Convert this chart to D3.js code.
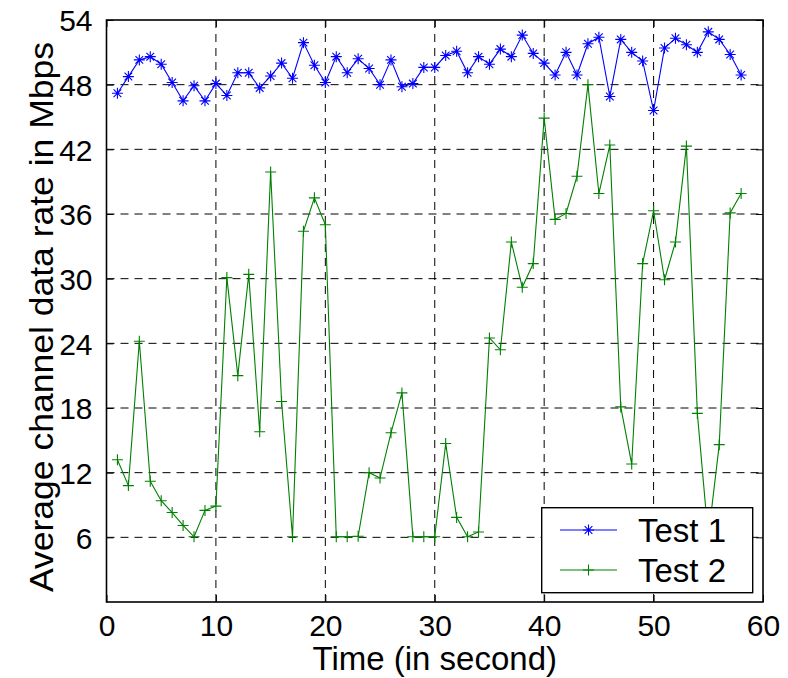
<!DOCTYPE html>
<html><head><meta charset="utf-8">
<script src="https://cdn.jsdelivr.net/npm/d3@7/dist/d3.min.js"></script>
<style>body{margin:0;background:#fff}svg{display:block}text{font-family:"Liberation Sans",Arial,sans-serif}</style>
</head><body>
<svg id="c" width="788" height="678"></svg>
<script>
const time = d3.range(1, 59);
const test1 = [47.2,48.75,50.3,50.6,49.9,48.2,46.5,47.9,46.5,48.1,47.0,49.1,49.1,47.7,48.8,50.0,48.6,51.9,49.8,48.2,
  50.6,49.1,50.4,49.5,48.0,50.3,47.8,48.1,49.6,49.6,50.7,51.1,49.1,50.6,49.9,51.3,50.6,52.6,50.9,50.0,
  48.9,51.0,48.9,51.8,52.4,46.9,52.2,51.0,50.2,45.6,51.4,52.3,51.7,51.0,52.9,52.2,50.8,48.9];
const test2 = [13.2,10.8,24.2,11.2,9.4,8.3,7.1,6.05,8.5,8.9,30.1,21.0,30.4,15.8,39.9,18.6,6.05,34.4,37.5,35.0,
  6.05,6.05,6.1,12.0,11.5,15.7,19.4,6.05,6.05,6.05,14.7,7.85,6.05,6.5,24.5,23.4,33.4,29.2,31.4,44.9,
  35.5,36.05,39.5,48.0,37.9,42.4,18.1,12.8,31.4,36.3,29.9,33.4,42.3,17.5,6.0,14.6,36.1,37.9];
const xTicks = [0,10,20,30,40,50,60];
const yTicks = [6,12,18,24,30,36,42,48,54];
const seriesNames = ["Test 1","Test 2"];
const seriesColors = ["#0000ff","#008000"];

const svg = d3.select("#c");
const L=106.5, R=763, T=20, B=602;
const x = d3.scaleLinear().domain([0,60]).range([L,R]);
const y = d3.scaleLinear().domain([0,54]).range([B,T]);

// grid
const g = svg.append("g");
g.selectAll(".vg").data(xTicks.filter(d=>d>0&&d<60)).join("line")
  .attr("x1",d=>x(d)).attr("x2",d=>x(d)).attr("y1",T).attr("y2",B)
  .attr("stroke","#000").attr("stroke-width",1).attr("stroke-dasharray","8,6");
g.selectAll(".hg").data(yTicks.filter(d=>d<54)).join("line")
  .attr("y1",d=>y(d)).attr("y2",d=>y(d)).attr("x1",L).attr("x2",R)
  .attr("stroke","#000").attr("stroke-width",1).attr("stroke-dasharray","8,6");

// axes with inner ticks
const fs = "30px";
const ax = svg.append("g").attr("transform",`translate(0,${B})`)
  .call(d3.axisBottom(x).tickValues(xTicks).tickSize(-7).tickPadding(13).tickFormat(d3.format("d")));
const axT = svg.append("g").attr("transform",`translate(0,${T})`)
  .call(d3.axisTop(x).tickValues(xTicks).tickSize(-7).tickFormat(""));
const ay = svg.append("g").attr("transform",`translate(${L},0)`)
  .call(d3.axisLeft(y).tickValues(yTicks).tickSize(-7).tickPadding(14).tickFormat(d3.format("d")));
const ayR = svg.append("g").attr("transform",`translate(${R},0)`)
  .call(d3.axisRight(y).tickValues(yTicks).tickSize(-7).tickFormat(""));
[ax,axT,ay,ayR].forEach(a=>{
  a.select(".domain").remove();
  a.selectAll("line").attr("stroke","#000").attr("stroke-width",1);
  a.selectAll("text").attr("font-size",fs).attr("fill","#000").attr("font-family",'"Liberation Sans",Arial,sans-serif');
});
ay.selectAll("text").attr("dy","0.36em");
svg.append("rect").attr("x",L).attr("y",T).attr("width",R-L).attr("height",B-T)
  .attr("fill","none").attr("stroke","#000").attr("stroke-width",1.6);

// lines
const line = d3.line().x((d,i)=>x(time[i])).y(d=>y(d));
const data = [test1,test2];
data.forEach((s,k)=>{
  svg.append("path").datum(s).attr("d",line).attr("fill","none")
    .attr("stroke",seriesColors[k]).attr("stroke-width",1.1);
});
function star(sel,cx,cy,c){
  const r=5.5, rd=r*0.7;
  const p=`M${cx-r},${cy}H${cx+r}M${cx},${cy-r}V${cy+r}M${cx-rd},${cy-rd}L${cx+rd},${cy+rd}M${cx-rd},${cy+rd}L${cx+rd},${cy-rd}`;
  sel.append("path").attr("d",p).attr("stroke",c).attr("stroke-width",1.1).attr("fill","none");
}
function plus(sel,cx,cy,c){
  const r=5.5;
  sel.append("path").attr("d",`M${cx-r},${cy}H${cx+r}M${cx},${cy-r}V${cy+r}`)
    .attr("stroke",c).attr("stroke-width",1.1).attr("fill","none");
}
const mk = svg.append("g");
test1.forEach((v,i)=>star(mk,x(time[i]),y(v),seriesColors[0]));
test2.forEach((v,i)=>plus(mk,x(time[i]),y(v),seriesColors[1]));

// labels
svg.append("text").attr("x",(L+R)/2).attr("y",670).attr("text-anchor","middle")
  .attr("font-size","33px").text("Time (in second)");
svg.append("text").attr("transform",`translate(53,${(T+B)/2+6}) rotate(-90)`).attr("text-anchor","middle")
  .attr("font-size","33px").attr("textLength",550).attr("lengthAdjust","spacingAndGlyphs")
  .text("Average channel data rate in Mbps");

// legend
const lg = svg.append("g");
lg.append("rect").attr("x",541.7).attr("y",507.7).attr("width",211).attr("height",85)
  .attr("fill","#fff").attr("stroke","#000").attr("stroke-width",1.4);
const ly=[530,570];
seriesNames.forEach((n,k)=>{
  lg.append("line").attr("x1",560).attr("x2",617).attr("y1",ly[k]).attr("y2",ly[k])
    .attr("stroke",seriesColors[k]).attr("stroke-width",1.1);
  if(k===0) star(lg,588.5,ly[k],seriesColors[k]); else plus(lg,588.5,ly[k],seriesColors[k]);
  lg.append("text").attr("x",638).attr("y",ly[k]+12).attr("font-size","33px").text(n);
});
</script>
</body></html>
